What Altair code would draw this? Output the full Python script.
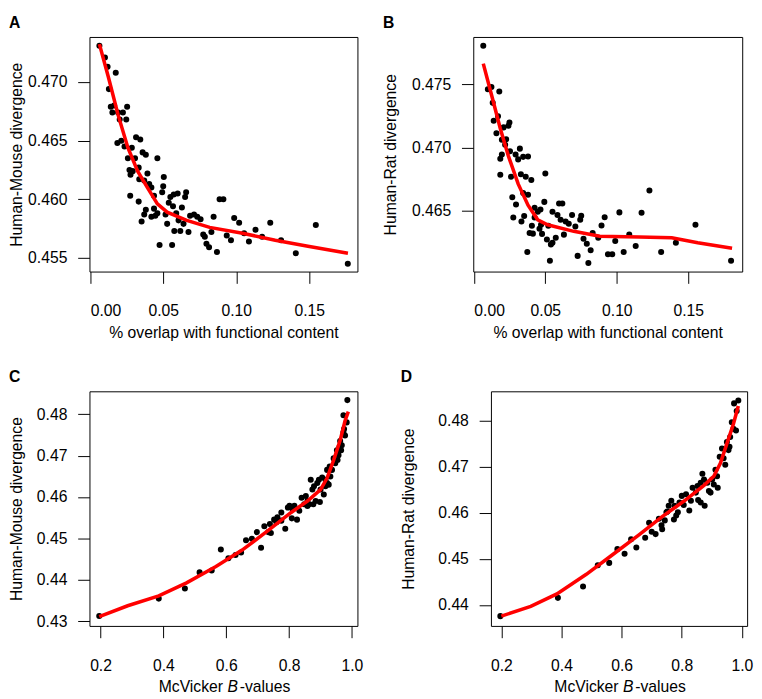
import altair as alt
import pandas as pd

FONT = "Liberation Sans"

# ---------------- Panel A: Human-Mouse vs % overlap ----------------
a_x = [0.0063, 0.0101, 0.0119, 0.0175, 0.0128, 0.0141, 0.0164, 0.0152, 0.0191, 0.0224,
       0.0253, 0.0202, 0.0247, 0.0186, 0.0213, 0.0235, 0.0314, 0.0343, 0.0285, 0.0359,
       0.0381, 0.0258, 0.0307, 0.0460, 0.0269, 0.0291, 0.0276, 0.0332, 0.0392, 0.0336,
       0.0370, 0.0404, 0.0419, 0.0504, 0.0500, 0.0493, 0.0274, 0.0332, 0.0437, 0.0549,
       0.0572, 0.0599, 0.0650, 0.0657, 0.0538, 0.0567, 0.0628, 0.0381, 0.0437, 0.0460,
       0.0370, 0.0419, 0.0446, 0.0352, 0.0516, 0.0527, 0.0589, 0.0605, 0.0639, 0.0684,
       0.0711, 0.0733, 0.0756, 0.0886, 0.0912, 0.0845, 0.0986, 0.1020, 0.1233, 0.0576,
       0.0617, 0.0673, 0.0774, 0.0785, 0.0830, 0.0935, 0.0964, 0.1054, 0.1087, 0.1132,
       0.1177, 0.1307, 0.0475, 0.0561, 0.0796, 0.0814, 0.0868, 0.1408, 0.1545, 0.1764]
a_y = [0.4731, 0.4721, 0.4713, 0.4708, 0.4694, 0.4679, 0.4680, 0.4674, 0.4674, 0.4674,
       0.4679, 0.4668, 0.4668, 0.4648, 0.4650, 0.4645, 0.4653, 0.4651, 0.4644, 0.4640,
       0.4638, 0.4635, 0.4635, 0.4635, 0.4625, 0.4624, 0.4621, 0.4627, 0.4622, 0.4617,
       0.4616, 0.4613, 0.4610, 0.4619, 0.4611, 0.4606, 0.4603, 0.4598, 0.4603, 0.4602,
       0.4604, 0.4605, 0.4602, 0.4606, 0.4597, 0.4594, 0.4593, 0.4591, 0.4592, 0.4588,
       0.4587, 0.4585, 0.4586, 0.4581, 0.4587, 0.4579, 0.4588, 0.4582, 0.4579, 0.4586,
       0.4587, 0.4585, 0.4583, 0.4600, 0.4600, 0.4585, 0.4584, 0.4580, 0.4580, 0.4573,
       0.4573, 0.4572, 0.4570, 0.4568, 0.4572, 0.4569, 0.4565, 0.4571, 0.4564, 0.4574,
       0.4568, 0.4565, 0.4561, 0.4561, 0.4562, 0.4559, 0.4555, 0.4554, 0.4578, 0.4545]
a_fit_x = [0.0063, 0.0123, 0.0191, 0.0258, 0.0325, 0.0392, 0.0460, 0.0527, 0.0661,
           0.0818, 0.1043, 0.1267, 0.1491, 0.1765]
a_fit_y = [0.47324, 0.4705, 0.4672, 0.4644, 0.4624, 0.4610, 0.4596, 0.4589, 0.4582,
           0.4576, 0.4571, 0.4565, 0.4560, 0.4554]

# ---------------- Panel B: Human-Rat vs % overlap ----------------
b_x = [0.0066, 0.0098, 0.0123, 0.0178, 0.0132, 0.0139, 0.0169, 0.0158, 0.0208, 0.0242,
       0.0249, 0.0196, 0.0226, 0.0219, 0.0196, 0.0185, 0.0253, 0.0292, 0.0322, 0.0310,
       0.0345, 0.0379, 0.0185, 0.0260, 0.0329, 0.0363, 0.0402, 0.0500, 0.0345, 0.0379,
       0.0269, 0.0295, 0.0493, 0.0276, 0.0333, 0.0352, 0.0425, 0.0447, 0.0466, 0.0425,
       0.0406, 0.0390, 0.0413, 0.0470, 0.0459, 0.0521, 0.0550, 0.0596, 0.0619, 0.0585,
       0.0607, 0.0642, 0.0664, 0.0687, 0.0710, 0.0744, 0.0751, 0.0477, 0.0511, 0.0550,
       0.0573, 0.0630, 0.0539, 0.0374, 0.0532, 0.0726, 0.0767, 0.0790, 0.0817, 0.0801,
       0.0831, 0.0870, 0.0893, 0.0915, 0.0938, 0.0968, 0.0989, 0.1018, 0.1048, 0.1087,
       0.1132, 0.1173, 0.1228, 0.1310, 0.1413, 0.1550, 0.1799]
b_y = [0.47805, 0.47461, 0.47479, 0.47443, 0.47353, 0.47211, 0.47247, 0.47112, 0.47159, 0.47172,
       0.47198, 0.47061, 0.47066, 0.47022, 0.46944, 0.46911, 0.46970, 0.46944, 0.46991, 0.46906,
       0.46926, 0.46929, 0.46784, 0.46769, 0.46789, 0.46769, 0.46743, 0.46795, 0.46640, 0.46627,
       0.46607, 0.46550, 0.46570, 0.46446, 0.46415, 0.46459, 0.46523, 0.46492, 0.46510, 0.46446,
       0.46381, 0.46324, 0.46319, 0.46389, 0.46358, 0.46381, 0.46492, 0.46557, 0.46557, 0.46467,
       0.46428, 0.46415, 0.46397, 0.46466, 0.46376, 0.46428, 0.46461, 0.46317, 0.46273, 0.46247,
       0.46286, 0.46311, 0.46234, 0.46174, 0.46105, 0.46143, 0.46278, 0.46239, 0.46187, 0.46087,
       0.46324, 0.46286, 0.46384, 0.46448, 0.46156, 0.46156, 0.46260, 0.46487, 0.46174, 0.46311,
       0.46221, 0.46484, 0.46660, 0.46174, 0.46247, 0.46389, 0.46105]
b_fit_x = [0.0066, 0.0128, 0.0185, 0.0242, 0.0310, 0.0379, 0.0447, 0.0516, 0.0699,
           0.0881, 0.1155, 0.1384, 0.1566, 0.1806]
b_fit_y = [0.47663, 0.47397, 0.47151, 0.46932, 0.46712, 0.46544, 0.46428, 0.46389, 0.46337,
           0.46298, 0.46293, 0.46286, 0.46247, 0.46203]

# ---------------- Panel C: Human-Mouse vs McVicker B ----------------
c_x = [0.1958, 0.3852, 0.4684, 0.5152, 0.5537, 0.5828, 0.6068, 0.6296, 0.6473, 0.6629,
       0.6816, 0.6973, 0.7108, 0.7212, 0.7337, 0.7420, 0.7524, 0.7628, 0.7753, 0.7878,
       0.7961, 0.8086, 0.8169, 0.8252, 0.8325, 0.8398, 0.8481, 0.8585, 0.8637, 0.8689,
       0.8741, 0.8772, 0.8845, 0.8897, 0.8980, 0.9001, 0.9053, 0.9105, 0.9157, 0.9209,
       0.9261, 0.9292, 0.9365, 0.9417, 0.9469, 0.9521, 0.9573, 0.9625, 0.9677, 0.9729,
       0.9781, 0.9729, 0.9833, 0.9854, 0.7597, 0.7753, 0.8013, 0.8117, 0.7389, 0.8533,
       0.8793, 0.8585, 0.9209, 0.9313, 0.9542, 0.9604, 0.9750, 0.9656, 0.8949, 0.9157]
c_y = [0.43130, 0.43549, 0.43795, 0.44182, 0.44229, 0.44735, 0.44522, 0.44601, 0.44664, 0.44957,
       0.44996, 0.45154, 0.44775, 0.45297, 0.45154, 0.45131, 0.45455, 0.45510, 0.45628, 0.45233,
       0.45747, 0.45486, 0.45787, 0.45455, 0.45668, 0.45984, 0.45826, 0.45905, 0.45826, 0.46419,
       0.46182, 0.45826, 0.45905, 0.46340, 0.45881, 0.46182, 0.46474, 0.46063, 0.46261, 0.46340,
       0.46300, 0.46735, 0.46656, 0.46933, 0.46814, 0.47130, 0.47012, 0.47352, 0.47249, 0.47565,
       0.47486, 0.47976, 0.47802, 0.48340, 0.45391, 0.45431, 0.45787, 0.45708, 0.45352, 0.46024,
       0.46261, 0.45787, 0.46656, 0.46498, 0.46893, 0.47209, 0.47644, 0.47130, 0.46419, 0.46419]
c_fit_x = [0.1958, 0.2863, 0.3852, 0.4736, 0.5672, 0.6505, 0.7337, 0.8065, 0.8585,
           0.9001, 0.9209, 0.9417, 0.9625, 0.9781, 0.9885]
c_fit_y = [0.43115, 0.43376, 0.43613, 0.43929, 0.44324, 0.44720, 0.45194, 0.45628, 0.45905,
           0.46182, 0.46459, 0.46893, 0.47368, 0.47842, 0.48063]

# ---------------- Panel D: Human-Rat vs McVicker B ----------------
d_x = [0.1967, 0.3881, 0.4717, 0.5207, 0.5587, 0.5859, 0.6098, 0.6315, 0.6489, 0.6783,
       0.6913, 0.7130, 0.7239, 0.7348, 0.7435, 0.7522, 0.7565, 0.7652, 0.7739, 0.7815,
       0.7870, 0.8000, 0.8065, 0.8141, 0.8250, 0.8359, 0.8468, 0.8544, 0.8630, 0.8761,
       0.8685, 0.8739, 0.8848, 0.8902, 0.8957, 0.9011, 0.9065, 0.9120, 0.9174, 0.9196,
       0.9261, 0.9337, 0.9446, 0.9500, 0.9554, 0.9609, 0.9663, 0.9717, 0.9804, 0.9739,
       0.9880, 0.9826, 0.7489, 0.7761, 0.7924, 0.8304, 0.8522, 0.8630, 0.7326, 0.7000,
       0.9391, 0.9587]
d_y = [0.43759, 0.44156, 0.44404, 0.44865, 0.44915, 0.45213, 0.45114, 0.45426, 0.45248, 0.45461,
       0.45787, 0.45539, 0.45872, 0.45645, 0.45837, 0.46028, 0.46156, 0.46262, 0.45858, 0.45943,
       0.46014, 0.46369, 0.46170, 0.46404, 0.46050, 0.46546, 0.46440, 0.46277, 0.46227, 0.46156,
       0.46851, 0.46723, 0.46652, 0.46475, 0.46440, 0.46723, 0.46617, 0.46936, 0.46794, 0.46546,
       0.47220, 0.47397, 0.47043, 0.47539, 0.47362, 0.47645, 0.47965, 0.47823, 0.47787, 0.48376,
       0.48440, 0.48213, 0.46014, 0.46156, 0.46227, 0.46262, 0.46582, 0.46652, 0.45731, 0.45589,
       0.47184, 0.47433]
d_fit_x = [0.2000, 0.2978, 0.3848, 0.4826, 0.5696, 0.6565, 0.7326, 0.8087, 0.8739,
           0.9065, 0.9283, 0.9500, 0.9717, 0.9880]
d_fit_y = [0.43759, 0.43972, 0.44241, 0.44667, 0.45092, 0.45518, 0.45908, 0.46262, 0.46596,
           0.46794, 0.47078, 0.47504, 0.47929, 0.48319]

# axis tick values
overlap_ticks = [0.0, 0.05, 0.10, 0.15]
bval_ticks = [0.2, 0.4, 0.6, 0.8, 1.0]
a_yticks = [0.455, 0.460, 0.465, 0.470]
b_yticks = [0.465, 0.470, 0.475]
c_yticks = [0.43, 0.44, 0.45, 0.46, 0.47, 0.48]
d_yticks = [0.44, 0.45, 0.46, 0.47, 0.48]


def panel(letter, px, py, fx, fy, xdom, ydom, xticks, yticks, xfmt, yfmt,
          ytitle, xtitle, w, h, yext, bvalues=False):
    pts = pd.DataFrame({"x": px, "y": py})
    fit = pd.DataFrame({"x": fx, "y": fy})
    if bvalues:
        xaxis = alt.Axis(values=xticks, format=xfmt, title=None)
    else:
        xaxis = alt.Axis(values=xticks, format=xfmt, title=xtitle)
    yaxis = alt.Axis(values=yticks, format=yfmt, title=ytitle,
                     minExtent=yext, maxExtent=yext)
    xenc = alt.X("x:Q", scale=alt.Scale(domain=xdom, nice=False, zero=False), axis=xaxis)
    yenc = alt.Y("y:Q", scale=alt.Scale(domain=ydom, nice=False, zero=False), axis=yaxis)
    points = alt.Chart(pts).mark_circle(color="black", size=38, opacity=1).encode(x=xenc, y=yenc)
    line = alt.Chart(fit).mark_line(color="#ff0000", strokeWidth=3.6).encode(x=xenc, y=yenc)
    layers = [points, line]
    if bvalues:
        one = pd.DataFrame({"t": [0]})
        xb = w / 2 + 4
        yb = h + 67
        layers.append(alt.Chart(one).mark_text(text="McVicker", align="right", baseline="alphabetic",
                                               font=FONT, fontSize=16, color="black")
                      .encode(x=alt.value(xb - 4.5), y=alt.value(yb)))
        layers.append(alt.Chart(one).mark_text(text="B", align="left", baseline="alphabetic",
                                               font=FONT, fontSize=16, fontStyle="italic", color="black")
                      .encode(x=alt.value(xb), y=alt.value(yb)))
        layers.append(alt.Chart(one).mark_text(text="-values", align="left", baseline="alphabetic",
                                               font=FONT, fontSize=16, color="black")
                      .encode(x=alt.value(xb + 12.5), y=alt.value(yb)))
    return alt.layer(*layers).properties(
        width=w, height=h,
        title=alt.TitleParams(letter, anchor="start", frame="bounds", fontSize=16,
                              fontWeight="bold", font=FONT, color="black", offset=6),
    )


pA = panel("A", a_x, a_y, a_fit_x, a_fit_y, [-0.0005, 0.183], [0.45383, 0.47385],
           overlap_ticks, a_yticks, ".2f", ".3f", "Human-Mouse divergence",
           "% overlap with functional content", 273, 239, 66)
pB = panel("B", b_x, b_y, b_fit_x, b_fit_y, [-0.0004, 0.1877], [0.46019, 0.47874],
           overlap_ticks, b_yticks, ".2f", ".3f", "Human-Rat divergence",
           "% overlap with functional content", 274, 239, 76)
pC = panel("C", c_x, c_y, c_fit_x, c_fit_y, [0.1647, 1.0175], [0.4289, 0.48552],
           bval_ticks, c_yticks, ".1f", ".2f", "Human-Mouse divergence",
           "McVicker B-values", 273, 239, 66, bvalues=True)
pD = panel("D", d_x, d_y, d_fit_x, d_fit_y, [0.1654, 1.0173], [0.43547, 0.48638],
           bval_ticks, d_yticks, ".1f", ".2f", "Human-Rat divergence",
           "McVicker B-values", 261, 239, 76, bvalues=True)

row1 = alt.hconcat(pA, pB, spacing=24)
row2 = alt.hconcat(pC, pD, spacing=36)

chart = alt.vconcat(row1, row2, spacing=28).properties(padding=0).configure_view(
    stroke="black", strokeWidth=1
).configure_axis(
    domain=False, grid=False, tickColor="black", tickSize=12, tickWidth=1,
    labelFont=FONT, labelFontSize=16, labelColor="black",
    titleFont=FONT, titleFontSize=16, titleFontWeight="normal", titleColor="black",
).configure_axisY(
    labelPadding=11, titlePadding=0,
).configure_axisX(
    labelPadding=20, titlePadding=6,
)

chart.save("out.html", embed_options={"renderer": "svg", "actions": False})
